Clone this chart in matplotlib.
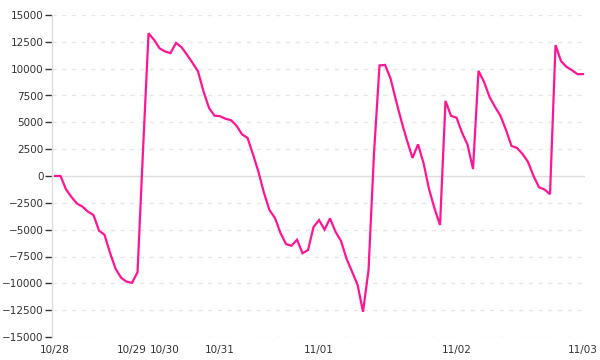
import matplotlib
matplotlib.use("Agg")
import matplotlib.pyplot as plt
import numpy as np

# series values, one per time step
values = [
    0, 0, -1250, -1960, -2570, -2860, -3330, -3640, -5090, -5480,
    -7160, -8630, -9470, -9850, -9950, -8960, 2400, 13300, 12690, 11900,
    11600, 11450, 12400, 12000, 11290, 10540, 9740, 7870, 6340, 5620,
    5570, 5330, 5200, 4690, 3880, 3550, 2010, 370, -1590, -3190,
    -3920, -5320, -6340, -6500, -5940, -7200, -6900, -4760, -4100, -5000,
    -3950, -5200, -6060, -7700, -8910, -10120, -12650, -8770, 2140, 10300,
    10350, 9100, 7030, 5080, 3310, 1680, 2950, 1210, -1210, -3030,
    -4570, 7000, 5600, 5440, 4040, 2920, 650, 9800, 8770, 7370,
    6440, 5600, 4290, 2800, 2610, 2050, 1310, 0, -1050, -1260,
    -1700, 12200, 10700, 10170, 9850, 9490, 9490,
]
tick_pos = [0, 14, 20, 30, 48, 73, 96]
tick_labels = ["10/28", "10/29", "10/30", "10/31", "11/01", "11/02", "11/03"]
y_ticks = list(range(-15000, 15001, 2500))

fig = plt.figure(figsize=(6, 3.6), dpi=100)
ax = fig.add_axes([52 / 600, 1 - 337 / 360, 533 / 600, 322 / 360])

x = np.arange(len(values))
ax.set_xlim(-0.55, len(values) - 1 + 0.36)
ax.set_ylim(-15000, 15000)

# grid: dashed light lines, solid zero line
for yv in y_ticks:
    if yv == 0:
        ax.axhline(0, color="#dddddd", lw=1, zorder=1)
    else:
        ax.axhline(yv, color="#e6e6e6", lw=1, ls=(0, (3, 4)), zorder=1)

ax.plot(x, values, color="#ff1493", lw=1.6, zorder=3, solid_joinstyle="miter")

for s in ["top", "right", "bottom"]:
    ax.spines[s].set_visible(False)
ax.spines["left"].set_color("#dddddd")
ax.spines["left"].set_linewidth(1)

ax.set_yticks(y_ticks)
ax.set_yticklabels([str(v).replace("-", "\u2212") for v in y_ticks])
ax.tick_params(axis="y", length=5, width=1, color="#333333", labelsize=7.5,
               labelcolor="#333333", pad=1)
ax.set_xticks(tick_pos)
ax.set_xticklabels(tick_labels)
ax.tick_params(axis="x", length=0, labelsize=7.5, labelcolor="#333333", pad=6)

fig.savefig("out.png", dpi=100)
